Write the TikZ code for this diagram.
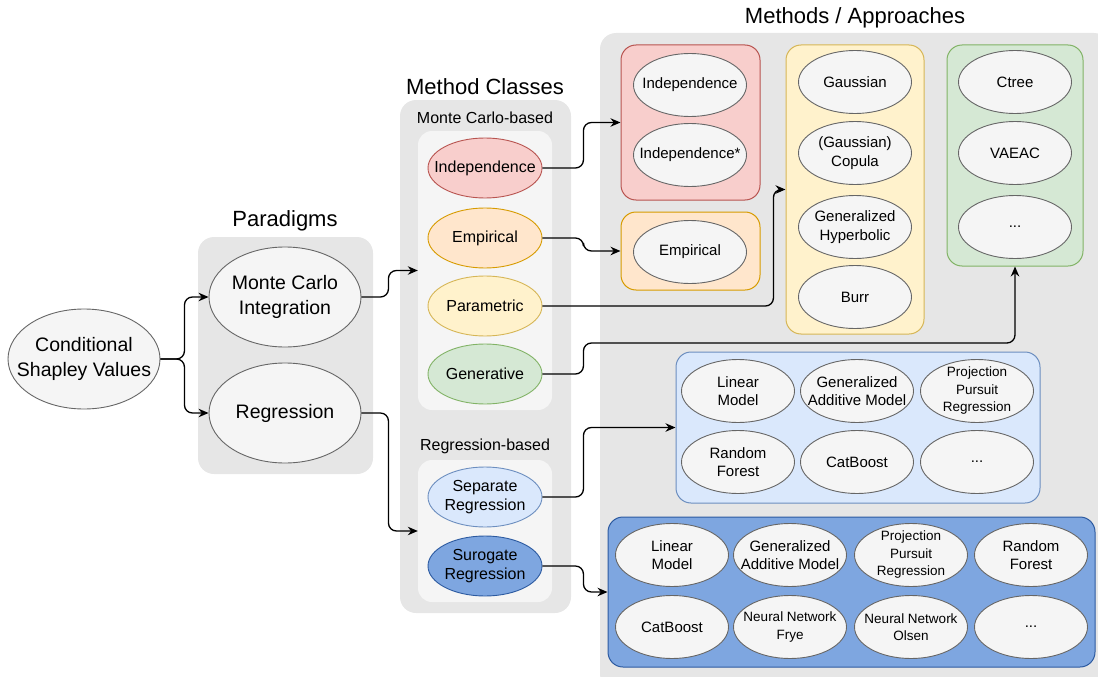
\documentclass[tikz,border=0pt]{standalone}
\usepackage{fontspec}
\setmainfont{Liberation Sans}
\usetikzlibrary{arrows.meta,shapes.geometric}

\definecolor{panelgray}{HTML}{E6E6E6}
\definecolor{innergray}{HTML}{F5F5F5}
\definecolor{ovalfill}{HTML}{F5F5F5}
\definecolor{ovalline}{HTML}{666666}
\definecolor{redfill}{HTML}{F8CECC}
\definecolor{redline}{HTML}{B85450}
\definecolor{orangefill}{HTML}{FFE6CC}
\definecolor{orangeline}{HTML}{D79B00}
\definecolor{yellowfill}{HTML}{FFF2CC}
\definecolor{yellowline}{HTML}{D6B656}
\definecolor{greenfill}{HTML}{D5E8D4}
\definecolor{greenline}{HTML}{82B366}
\definecolor{bluefill}{HTML}{DAE8FC}
\definecolor{blueline}{HTML}{6C8EBF}
\definecolor{darkbluefill}{HTML}{7EA6E0}
\definecolor{darkblueline}{HTML}{2C5AA0}

\tikzset{
	panel/.style={rectangle, fill=#1, rounded corners=16pt, inner sep=0pt},
	grpbox/.style 2 args={rectangle, fill=#1, draw=#2, line width=1pt, rounded corners=15pt, inner sep=0pt},
	oval/.style={ellipse, draw=ovalline, fill=ovalfill, line width=0.9pt, inner sep=-40pt, align=center,
		minimum width=113pt, minimum height=63pt, font=\fontsize{15}{18.5}\selectfont},
	smalloval/.style={oval, font=\fontsize{13.5}{17.5}\selectfont},
	classoval/.style 2 args={oval, fill=#1, draw=#2, minimum width=114pt, minimum height=60pt,
		font=\fontsize{16}{19.5}\selectfont},
	bigoval/.style={oval, minimum width=152pt, minimum height=100pt, font=\fontsize{19.5}{24.5}\selectfont},
	title/.style={font=\fontsize{22}{26}\selectfont},
	sublabel/.style={font=\fontsize{16}{19}\selectfont},
	conn/.style={-{Stealth[length=10pt,width=8.5pt]}, line width=1.3pt, rounded corners=8pt}
}

\begin{document}
\begin{tikzpicture}[x=1pt, y=-1pt]
		%%%%% START %%%%%
		\useasboundingbox (0, 0) rectangle (1098, 677);
		
		% panels
		\node[panel=panelgray, minimum width=175pt, minimum height=237pt] (parpanel) at (285.5, 355.5) {};
		\node[panel=panelgray, minimum width=171pt, minimum height=513pt] (clspanel) at (485.5, 356.5) {};
		\node[panel=innergray, minimum width=134pt, minimum height=279pt, rounded corners=14pt] (mcpanel) at (485, 270.5) {};
		\node[panel=innergray, minimum width=134pt, minimum height=142pt, rounded corners=14pt] (regpanel) at (485, 531) {};
		\node[panel=panelgray, minimum width=510pt, minimum height=657pt] (methpanel) at (855, 361.5) {};
		
		\node[title] (partitle) at (285, 221) {Paradigms};
		\node[title] (clstitle) at (485, 87) {Method Classes};
		\node[title] (methtitle) at (855, 18) {Methods / Approaches};
		\node[sublabel] (mclabel) at (485, 118) {Monte Carlo-based};
		\node[sublabel] (reglabel) at (485, 446) {Regression-based};
		
		% paradigms
		\node[bigoval] (csv) at (84, 359) {Conditional\\Shapley Values};
		\node[bigoval] (mci) at (285, 297) {Monte Carlo\\Integration};
		\node[bigoval] (regr) at (285, 413) {Regression};
		
		% method classes
		\node[classoval={redfill}{redline}] (indep) at (485, 168) {Independence};
		\node[classoval={orangefill}{orangeline}] (empir) at (485, 238) {Empirical};
		\node[classoval={yellowfill}{yellowline}] (param) at (485, 306) {Parametric};
		\node[classoval={greenfill}{greenline}] (gener) at (485, 374) {Generative};
		\node[classoval={bluefill}{blueline}] (sepreg) at (485, 497) {Separate\\Regression};
		\node[classoval={darkbluefill}{darkblueline}] (surreg) at (485, 566) {Surogate\\Regression};
		
		% method groups
		\node[grpbox={redfill}{redline}, minimum width=139pt, minimum height=155pt] (redbox) at (690.5, 122.5) {};
		\node[grpbox={orangefill}{orangeline}, minimum width=139pt, minimum height=78pt] (orangebox) at (690.5, 251) {};
		\node[grpbox={yellowfill}{yellowline}, minimum width=138pt, minimum height=289pt] (yellowbox) at (855, 189.5) {};
		\node[grpbox={greenfill}{greenline}, minimum width=136pt, minimum height=221pt] (greenbox) at (1015, 155.5) {};
		\node[grpbox={bluefill}{blueline}, minimum width=364pt, minimum height=151pt] (bluebox) at (858, 427.5) {};
		\node[grpbox={darkbluefill}{darkblueline}, minimum width=487pt, minimum height=150pt] (darkbox) at (851.5, 592) {};
		
		\node[oval] (mindep) at (690, 85) {Independence};
		\node[oval] (mindepx) at (690, 155) {Independence*};
		\node[oval] (mempir) at (690, 252) {Empirical};
		
		\node[oval] (gauss) at (855, 82) {Gaussian};
		\node[oval] (copula) at (855, 153) {(Gaussian)\\Copula};
		\node[oval] (genhyp) at (855, 227) {Generalized\\Hyperbolic};
		\node[oval] (burr) at (855, 297) {Burr};
		
		\node[oval] (ctree) at (1015, 82) {Ctree};
		\node[oval] (vaeac) at (1015, 153) {VAEAC};
		\node[oval] (gendots) at (1015, 227) {...};
		
		\node[oval] (slin) at (738, 391) {Linear\\Model};
		\node[oval] (sgam) at (857, 391) {Generalized\\Additive Model};
		\node[smalloval] (sppr) at (977, 391) {Projection\\Pursuit\\Regression};
		\node[oval] (srf) at (738, 462) {Random\\Forest};
		\node[oval] (scat) at (857, 462) {CatBoost};
		\node[oval] (sdots) at (977, 462) {...};
		
		\node[oval] (ulin) at (672, 555) {Linear\\Model};
		\node[oval] (ugam) at (790, 555) {Generalized\\Additive Model};
		\node[smalloval] (uppr) at (911, 555) {Projection\\Pursuit\\Regression};
		\node[oval] (urf) at (1031, 555) {Random\\Forest};
		\node[oval] (ucat) at (672, 627) {CatBoost};
		\node[smalloval] (unnf) at (790, 627) {Neural Network\\Frye};
		\node[smalloval] (unno) at (911, 627) {Neural Network\\Olsen};
		\node[oval] (udots) at (1031, 627) {...};
		
		% connectors
		\draw[conn] (csv.east) -- ++(24, 0) |- (mci.west);
		\draw[conn] (csv.east) -- ++(24, 0) |- (regr.west);
		\draw[conn] (mci.east) -- ++(27, 0) |- (mcpanel.west);
		\draw[conn] (regr.east) -- ++(27, 0) |- (regpanel.west);
		
		\draw[conn] (indep.east) -- ++(41, 0) |- (redbox.west);
		\draw[conn] (empir.east) -- ++(41, 0) |- (orangebox.west);
		\draw[conn] (param.east) -- ++(231, 0) |- (yellowbox.west);
		\draw[conn] (gener.east) -- ++(41, 0) -- ++(0, -31) -| (greenbox.south);
		\draw[conn] (sepreg.east) -- ++(41, 0) |- (bluebox.west);
		\draw[conn] (surreg.east) -- ++(41, 0) |- (darkbox.west);
		
		%%%%% END %%%%%
	\end{tikzpicture}
\end{document}
